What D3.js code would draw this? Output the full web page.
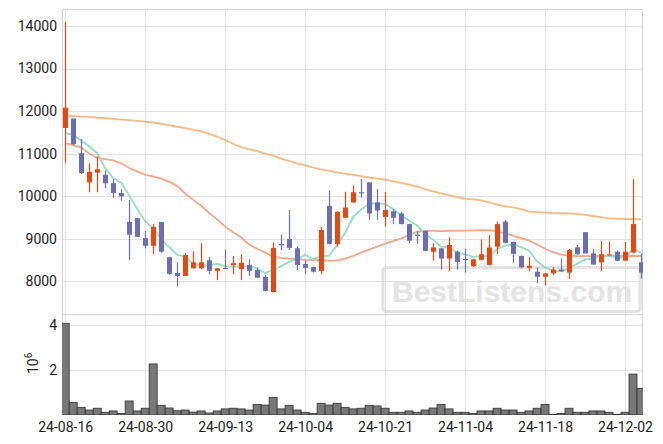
<!DOCTYPE html>
<html><head><meta charset="utf-8">
<script src="https://cdn.jsdelivr.net/npm/d3@7"></script>
<style>body{margin:0;background:#fff}svg{display:block}</style>
</head><body>
<svg id="c" width="663" height="444"></svg>
<script>
const dates = ["24-08-16","24-08-19","24-08-20","24-08-21","24-08-22","24-08-23","24-08-26","24-08-27","24-08-28","24-08-29","24-08-30","24-09-02","24-09-03","24-09-04","24-09-05","24-09-06","24-09-09","24-09-10","24-09-11","24-09-12","24-09-13","24-09-19","24-09-20","24-09-23","24-09-24","24-09-25","24-09-26","24-09-27","24-09-30","24-10-02","24-10-04","24-10-07","24-10-08","24-10-10","24-10-11","24-10-14","24-10-15","24-10-16","24-10-17","24-10-18","24-10-21","24-10-22","24-10-23","24-10-24","24-10-25","24-10-28","24-10-29","24-10-30","24-10-31","24-11-01","24-11-04","24-11-05","24-11-06","24-11-07","24-11-08","24-11-11","24-11-12","24-11-13","24-11-14","24-11-15","24-11-18","24-11-19","24-11-20","24-11-21","24-11-22","24-11-25","24-11-26","24-11-27","24-11-28","24-11-29","24-12-02","24-12-03","24-12-04"];
const open  = [11600,11820,11010,10320,10550,10500,10300,10070,9390,9480,9010,8830,9390,8560,8190,8120,8300,8300,8490,8240,8310,8370,8280,8380,8260,8100,7740,8870,8990,8770,8400,8330,8240,9770,8870,9490,9850,10090,10320,9850,9510,9640,9590,9340,9090,9180,8690,8770,8530,8690,8520,8350,8500,8380,8810,9400,8920,8590,8310,8220,8100,8180,8270,8200,8790,9150,8650,8440,8620,8690,8480,8670,8440];
const high  = [14100,11830,11340,10770,10930,10600,10400,10160,9910,9490,9180,9340,9390,8570,8440,8650,8700,8890,8570,8310,8740,8590,8630,8510,8320,8140,8910,9100,9670,8820,8490,8340,9280,10130,9640,10100,10250,10400,10330,10160,10100,9690,9630,9350,9170,9190,8890,8780,9030,8720,8760,8530,8980,9080,9400,9440,8930,8600,8560,8320,8190,8330,8530,8760,8850,9150,8750,8940,8930,8720,8920,10400,8650];
const low   = [10770,11200,10520,10090,10090,10180,9960,9890,8490,9040,8770,8630,8670,8150,7880,8120,8290,8280,8160,8020,8280,8160,8020,8120,8070,7760,7730,8730,8730,8260,8160,8200,8160,8860,8810,9480,9840,9960,9440,9440,9280,9340,9330,8890,8870,8700,8480,8270,8240,8270,8200,8330,8490,8370,8630,8890,8430,8300,8230,7950,7900,8150,8220,8050,8620,8650,8380,8240,8610,8470,8470,8650,8060];
const close = [12080,11220,10540,10570,10630,10300,10070,9990,9090,9040,8830,9270,8690,8170,8120,8610,8440,8440,8240,8300,8300,8420,8430,8240,8080,7770,8780,8860,8780,8380,8310,8220,9200,8870,9630,9730,10090,10080,9590,9660,9670,9490,9340,8950,9080,8710,8790,8530,8850,8450,8510,8510,8630,8790,9340,8900,8640,8320,8360,8100,8180,8270,8230,8730,8630,8650,8390,8630,8630,8480,8690,9340,8200];
const maShort = [11479,11440,11300,11170,11008,10652,10422,10312,10016,9698,9404,9244,8984,8800,8616,8572,8406,8356,8370,8406,8344,8340,8338,8338,8294,8188,8260,8346,8454,8514,8622,8510,8578,8596,8846,9130,9504,9680,9824,9830,9818,9698,9550,9422,9306,9114,8974,8812,8792,8666,8626,8570,8590,8578,8756,8834,8860,8798,8712,8464,8320,8246,8228,8302,8408,8502,8526,8606,8586,8556,8564,8754,8668];
const maMid = [11243,11200,11140,11000,10900,10870,10840,10770,10660,10580,10497,10460,10410,10340,10240,10060,9910,9770,9600,9450,9280,9150,9030,8860,8760,8670,8572,8545,8530,8515,8500,8494,8490,8480,8480,8530,8590,8670,8740,8810,8880,8940,9000,9083,9160,9180,9180,9175,9180,9185,9185,9190,9200,9195,9177,9120,9070,9010,8950,8860,8760,8680,8620,8600,8590,8588,8585,8585,8588,8590,8590,8590,8590];
const maLong = [11894,11880,11870,11860,11845,11830,11815,11800,11785,11770,11753,11730,11700,11670,11630,11595,11560,11520,11460,11400,11320,11230,11150,11100,11060,11000,10950,10880,10830,10770,10720,10670,10625,10590,10555,10525,10500,10470,10440,10410,10385,10350,10310,10270,10220,10160,10110,10060,10020,9975,9940,9920,9900,9850,9800,9760,9735,9690,9635,9620,9610,9600,9595,9590,9575,9555,9530,9505,9475,9465,9460,9455,9453];
const volume = [4.06,0.56,0.34,0.22,0.30,0.12,0.18,0.07,0.62,0.18,0.30,2.26,0.43,0.31,0.19,0.22,0.13,0.18,0.09,0.18,0.27,0.30,0.27,0.22,0.47,0.44,0.78,0.27,0.43,0.22,0.12,0.07,0.52,0.44,0.52,0.34,0.27,0.30,0.43,0.40,0.30,0.12,0.12,0.18,0.12,0.22,0.31,0.47,0.27,0.12,0.12,0.07,0.18,0.18,0.30,0.22,0.22,0.12,0.18,0.30,0.47,0.03,0.07,0.30,0.12,0.12,0.18,0.18,0.12,0.03,0.12,1.81,1.18];
const priceTicks = [8000,9000,10000,11000,12000,13000,14000];
const volTicks = [2,4];
const dateTickIdx = [0,10,20,30,40,50,60,70];

const svg = d3.select("#c");
const L = 62, R = 643, T = 9, MB = 314, VB = 415;
const x = d3.scaleLinear().domain([-0.4, 72.25]).range([L, R]);
const y = d3.scaleLinear().domain([7225, 14400]).range([MB, T]);
const yv = d3.scaleLinear().domain([0, 4.47]).range([VB, MB]);
const idx = d3.range(dates.length);
const font = "Roboto, 'DejaVu Sans', sans-serif";

const defs = svg.append("defs");
defs.append("clipPath").attr("id","cm").append("rect").attr("x",L).attr("y",T).attr("width",R-L).attr("height",MB-T);
defs.append("clipPath").attr("id","cv").append("rect").attr("x",L).attr("y",MB).attr("width",R-L).attr("height",VB-MB);

// grids
const grid = svg.append("g").attr("stroke","#e2e2e2").attr("stroke-width",1);
grid.selectAll("line.h").data(priceTicks).join("line")
  .attr("x1",L).attr("x2",R).attr("y1",d=>Math.round(y(d))+0.5).attr("y2",d=>Math.round(y(d))+0.5);
grid.selectAll("line.hv").data(volTicks).join("line")
  .attr("x1",L).attr("x2",R).attr("y1",d=>Math.round(yv(d))+0.5).attr("y2",d=>Math.round(yv(d))+0.5);
grid.selectAll("line.v").data(dateTickIdx).join("line")
  .attr("x1",d=>Math.round(x(d))+0.5).attr("x2",d=>Math.round(x(d))+0.5).attr("y1",T).attr("y2",VB);

// watermark
const wm = svg.append("g").attr("opacity",0.9);
wm.append("rect").attr("x",383).attr("y",267.5).attr("width",257).attr("height",44).attr("rx",3)
  .attr("fill","none").attr("stroke","#e0e0e0").attr("stroke-width",3);
wm.append("text").attr("x",392).attr("y",302).attr("font-family","'Liberation Sans', Arial, sans-serif")
  .attr("font-weight","bold").attr("font-size",30).attr("fill","#e0e0e0").text("BestListens.com");

// frames
svg.append("rect").attr("x",L+0.5).attr("y",T+0.5).attr("width",R-L-1).attr("height",MB-T).attr("fill","none").attr("stroke","#d4d4d4");
svg.append("rect").attr("x",L+0.5).attr("y",MB+0.5).attr("width",R-L-1).attr("height",VB-MB-1).attr("fill","none").attr("stroke","#d4d4d4");

// moving averages
const mg = svg.append("g").attr("clip-path","url(#cm)").attr("fill","none");
const line = arr => d3.line().x(i=>x(i)).y(i=>y(arr[i]))(idx);
mg.append("path").attr("d",line(maLong)).attr("stroke","#f0bb88").attr("stroke-width",1.8);
mg.append("path").attr("d",line(maMid)).attr("stroke","#eea98c").attr("stroke-width",1.8);
mg.append("path").attr("d",line(maShort)).attr("stroke","#95dcc2").attr("stroke-width",1.8);

// candles
const UP = "#e8470f", DN = "#6b6eb4";
const cg = svg.append("g").attr("clip-path","url(#cm)");
const cw = 5;
const c = cg.selectAll("g").data(idx).join("g");
c.append("line")
  .attr("x1",i=>Math.round(x(i))+0.5).attr("x2",i=>Math.round(x(i))+0.5)
  .attr("y1",i=>y(high[i])).attr("y2",i=>y(low[i]))
  .attr("stroke",i=>close[i]>=open[i]?UP:DN).attr("stroke-width",1.2);
c.append("rect")
  .attr("x",i=>Math.round(x(i))+0.5-cw/2).attr("width",cw)
  .attr("y",i=>y(Math.max(open[i],close[i])))
  .attr("height",i=>Math.max(1.2, Math.abs(y(open[i])-y(close[i]))))
  .attr("fill",i=>close[i]>=open[i]?UP:DN);

// volume
svg.append("g").attr("clip-path","url(#cv)").selectAll("rect").data(idx).join("rect")
  .attr("x",i=>x(i)-4).attr("width",8)
  .attr("y",i=>yv(volume[i])).attr("height",i=>VB-yv(volume[i]))
  .attr("fill","#787878").attr("stroke","#2f2f2f").attr("stroke-width",0.8);

// axes
const styleAxis = g => { g.select(".domain").remove(); g.selectAll(".tick line").remove();
  g.selectAll("text").attr("font-family",font).attr("font-size",14).attr("fill","#222"); };
svg.append("g").attr("transform",`translate(${L-5},0)`)
  .call(d3.axisLeft(y).tickValues(priceTicks).tickFormat(d3.format("d")).tickSize(0).tickPadding(0))
  .call(styleAxis);
svg.append("g").attr("transform",`translate(${L-5},0)`)
  .call(d3.axisLeft(yv).tickValues(volTicks).tickFormat(d3.format("d")).tickSize(0).tickPadding(0))
  .call(styleAxis);
svg.append("g").attr("transform",`translate(0,${VB+4})`)
  .call(d3.axisBottom(x).tickValues(dateTickIdx).tickFormat(i=>dates[i]).tickSize(0).tickPadding(3))
  .call(styleAxis);

const yl = svg.append("text").attr("transform","translate(38,374) rotate(-90)")
  .attr("font-family",font).attr("font-size",14).attr("fill","#222");
yl.append("tspan").text("10");
yl.append("tspan").attr("dy",-6).attr("font-size",10).text("6");
</script>
</body></html>
